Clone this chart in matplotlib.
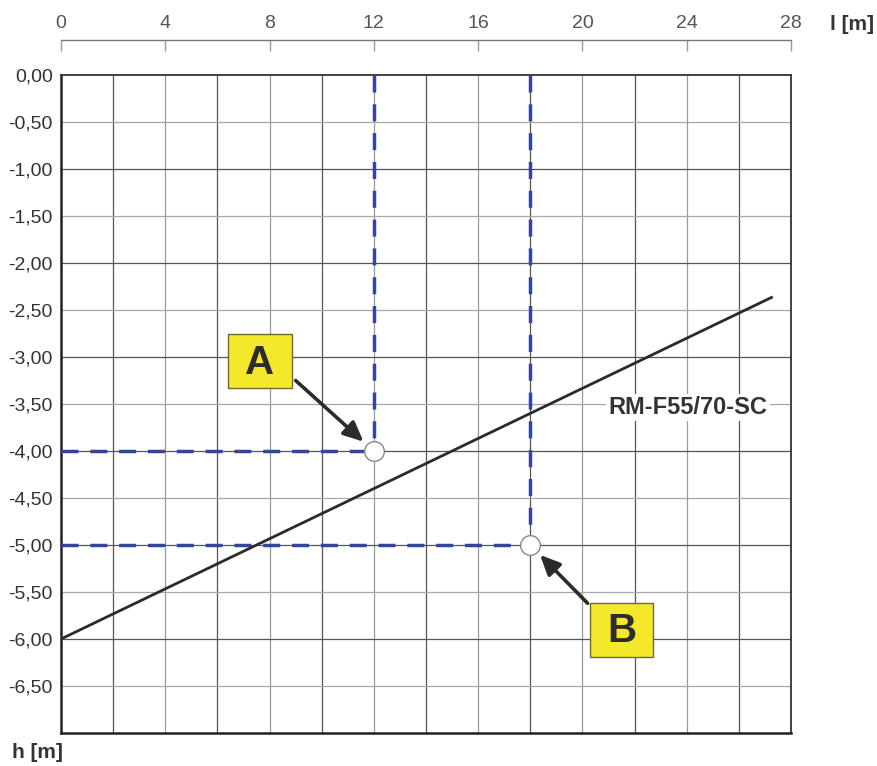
import matplotlib
matplotlib.use("Agg")
import matplotlib.pyplot as plt
from matplotlib.patches import Rectangle
import numpy as np

plt.rcParams['font.family'] = ['Liberation Sans', 'DejaVu Sans']

# ---- data ----
line_x = [0.0, 27.3]
line_y = [-6.0, -2.36]
line_label = "RM-F55/70-SC"
point_names = ["A", "B"]
point_x = [12.0, 18.0]
point_y = [-4.0, -5.0]
yticks = [0.0, -0.5, -1.0, -1.5, -2.0, -2.5, -3.0, -3.5, -4.0, -4.5, -5.0, -5.5, -6.0, -6.5]
top_ticks = [0, 4, 8, 12, 16, 20, 24, 28]
xlabel = "l [m]"
ylabel = "h [m]"

fig = plt.figure(figsize=(8.78, 7.66), dpi=100)
ax = fig.add_axes([61/878, 1-733/766, 730/878, 658/766])
ax.set_xlim(0, 28)
ax.set_ylim(-7, 0)

# grid
for gx in np.arange(2, 28, 2):
    c = '#555555' if gx % 4 == 2 else '#9a9a9a'
    ax.axvline(gx, color=c, lw=0.9, zorder=1)
for gy in np.arange(-6.5, 0, 0.5):
    c = '#555555' if float(gy).is_integer() else '#a8a8a8'
    ax.axhline(gy, color=c, lw=0.9, zorder=1)

ax.set_xticks([])
for s in ['left', 'bottom']:
    ax.spines[s].set_linewidth(1.8)
    ax.spines[s].set_color('#222222')
for s in ['top', 'right']:
    ax.spines[s].set_linewidth(1.3)
    ax.spines[s].set_color('#333333')

# main line
ax.plot(line_x, line_y, color='#2b2b2b', lw=2.0, zorder=4, solid_capstyle='butt')
ax.text(24.05, -3.54, line_label, fontsize=17, fontweight='bold', color='#333333',
        ha='center', va='center', zorder=5,
        bbox=dict(facecolor='white', edgecolor='none', pad=1.5))

# dashed guides
for px, py in zip(point_x, point_y):
    ax.plot([px, px], [0, py], color='#34469a', lw=2.5, dashes=(4.9, 3.4), zorder=3)
    ax.plot([0, px], [py, py], color='#34469a', lw=2.5, dashes=(4.9, 3.4), zorder=3)

ax.scatter(point_x, point_y, s=200, facecolor='white', edgecolor='#888888', lw=1.0, zorder=6)

# label boxes
box_centers = [(7.63, -3.04), (21.5, -5.9)]
arrow_starts = [(9.0, -3.25), (20.2, -5.62)]
bw, bh = 2.45, 0.575
for name, (cx, cy), (sx, sy), px, py in zip(point_names, box_centers, arrow_starts, point_x, point_y):
    ax.add_patch(Rectangle((cx - bw/2, cy - bh/2), bw, bh, facecolor='#f3e82a',
                           edgecolor='#6b6b3a', lw=1.0, zorder=7))
    ax.text(cx, cy - 0.02, name, fontsize=29, fontweight='bold', color='#2d2d2d',
            ha='center', va='center', zorder=8)
    ax.annotate('', xy=(px, py), xytext=(sx, sy),
                arrowprops=dict(arrowstyle='-|>,head_length=1.2,head_width=0.55',
                                color='#2b2b2b', lw=2.6, shrinkA=0, shrinkB=10),
                zorder=7)

# top axis
ax2 = ax.twiny()
ax2.set_xlim(0, 28)
ax2.set_xticks(top_ticks)
ax2.set_xticklabels([str(t) for t in top_ticks])
for s in ['left', 'right', 'bottom']:
    ax2.spines[s].set_visible(False)
ax2.spines['top'].set_position(('outward', 25))
ax2.spines['top'].set_color('#777777')
ax2.spines['top'].set_linewidth(1.0)
ax2.tick_params(axis='x', direction='in', length=8, width=1.0, color='#999999', pad=6,
                labelsize=14, labelcolor='#555555')

# y tick labels (set after twiny so they persist)
ax.set_yticks(yticks)
ax.set_yticklabels([f"{v:.2f}".replace('.', ',').replace('-0,00', '0,00') for v in yticks])
ax.tick_params(axis='y', length=0, pad=6, labelsize=14, labelcolor='#333333')

fig.text(852/878, 1-25/766, xlabel, fontsize=15, fontweight='bold', color='#333333',
         ha='center', va='center')
fig.text(37/878, 1-752/766, ylabel, fontsize=15, fontweight='bold', color='#333333',
         ha='center', va='center')

fig.savefig("out.png", dpi=100)
